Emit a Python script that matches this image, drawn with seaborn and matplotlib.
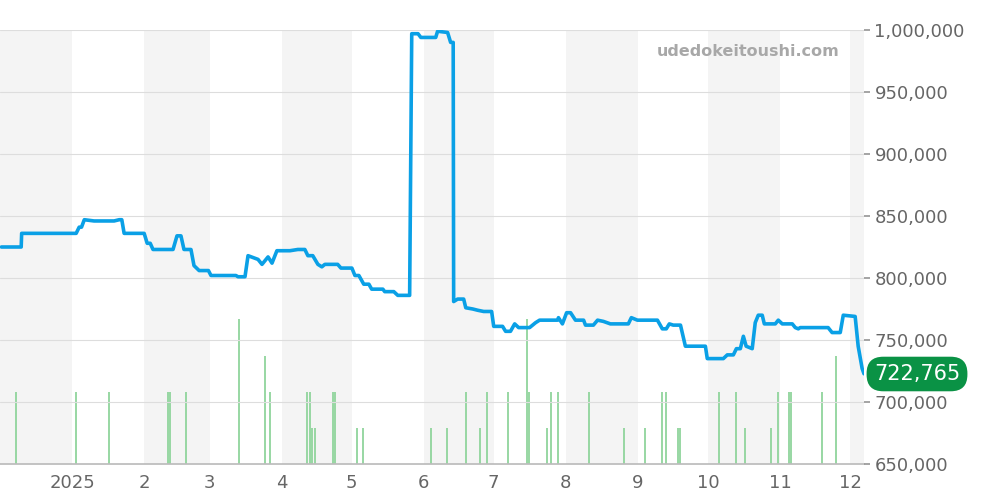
import numpy as np
import pandas as pd
import matplotlib
matplotlib.use("Agg")
import matplotlib.pyplot as plt
import seaborn as sns

# x positions are days since 2024-12-01; each line of the two lists matches
price_day = [0.6, 9.1, 9.3, 32.7, 34, 35, 36.2, 40.4, 49, 51.2,
             52.3, 53.3, 61.9, 63.2, 64.5, 65.7, 74.3, 76, 77.7, 79,
             82, 83.3, 85.5, 89.5, 90.6, 101.3, 102.2, 105.2, 106.5, 110.8,
             112.5, 115.1, 116.8, 118.9, 124.5, 127.9, 130.9, 132.2, 134.3, 136.5,
             138.2, 139.5, 145, 146.4, 151.1, 152.4, 154.1, 156.2, 158.4, 159.6,
             164.4, 165.2, 169.1, 170.8, 175.9, 176.8, 179.5, 180.7, 187.1, 187.9,
             192.2, 193.5, 194.6, 194.8, 196.5, 199.1, 200, 203, 205.1, 207.7,
             211.1, 212, 215.8, 217.1, 219.2, 221, 222.7, 227.4, 230, 231.7,
             239.4, 239.8, 241.5, 243.3, 245, 247.1, 250.6, 251.4, 254.8, 256.6,
             259.1, 262.1, 269.8, 271.1, 273.7, 282.3, 284.4, 286.1, 287.4, 289.1,
             292.2, 294.3, 302.9, 303.7, 310.6, 312.3, 314.9, 316.2, 317.9, 319.2,
             320.4, 323, 324.3, 325.6, 327.3, 328.2, 332.9, 334.2, 335.9, 340.2,
             341.5, 342.8, 343.6, 355.6, 357.3, 360.8, 362.1, 367.2, 368.5, 370.2,
             371]
price_val = [825, 825, 836, 836, 841, 841, 847, 846, 846, 847,
             847, 836, 836, 828, 828, 823, 823, 834, 834, 823,
             823, 810, 806, 806, 802, 802, 801, 801, 818, 815,
             811, 817, 812, 822, 822, 823, 823, 818, 818, 811,
             809, 811, 811, 808, 808, 802, 802, 795, 795, 791,
             791, 789, 789, 786, 786, 997, 997, 994, 994, 999,
             998, 990, 990, 781, 783, 783, 776, 775, 774, 773,
             773, 761, 761, 757, 757, 763, 760, 760, 764, 766,
             766, 768, 763, 772, 772, 766, 766, 762, 762, 766,
             765, 763, 763, 768, 766, 766, 759, 759, 763, 762,
             762, 745, 745, 735, 735, 738, 738, 743, 743, 753,
             745, 743, 764, 770, 770, 763, 763, 766, 763, 763,
             760, 759, 760, 760, 756, 756, 770, 769, 745, 727,
             722.765]
price_val = [v * 1000 for v in price_val]

vol_day = [7, 32.7, 46.9, 72.2, 73, 79.9, 102.6, 113.8, 115.9, 131.8,
           133.1, 133.9, 135.2, 143, 143.8, 153.2, 155.8, 185, 191.8, 200,
           206, 209, 218, 226.1, 227, 234.7, 236.8, 239.8, 253.1, 268.1,
           277.1, 284.4, 286.1, 291.3, 292.2, 308.9, 316.2, 320, 331.2, 334.2,
           338.9, 339.8, 353.1, 359.1]
vol_cnt = [2, 2, 2, 2, 2, 2, 4, 3, 2, 2,
           2, 1, 1, 2, 2, 1, 1, 1, 1, 2,
           1, 2, 2, 4, 2, 1, 2, 2, 2, 1,
           1, 2, 2, 1, 1, 2, 2, 1, 1, 2,
           2, 2, 2, 3]

month_lbl = ["2025", "2", "3", "4", "5", "6", "7", "8", "9", "10", "11", "12"]
last_price = "722,765"

start = pd.Timestamp("2024-12-01")
months = pd.date_range("2024-12-01", "2026-01-01", freq="MS")
m_off = [(m - start).days for m in months]
x_max = 371

sns.set_theme(style="white")
fig = plt.figure(figsize=(10, 5), dpi=100)
ax2 = fig.add_axes([0.0, 0.072, 0.864, 0.868])
ax = ax2.twinx()

# back axis: month bands + volume bars
for i in range(0, len(m_off) - 1, 2):
    ax2.axvspan(m_off[i], min(m_off[i + 1], x_max), color="#f4f4f4", zorder=0, lw=0)
ax2.vlines(vol_day, 0, vol_cnt, color="#90d49c", lw=1.3, zorder=2)
ax2.set_ylim(0, 12)
ax2.set_yticks([])
ax2.set_xlim(0, x_max)
ax2.set_xticks(m_off[1:13])
ax2.set_xticklabels(month_lbl, color="#666666", fontsize=13)
ax2.tick_params(axis="x", length=4, color="#999999")
for s in ax2.spines.values():
    s.set_visible(False)
ax2.spines["bottom"].set_visible(True)
ax2.spines["bottom"].set_color("#bbbbbb")

ax.set_ylim(650000, 1000000)
ax.set_yticks(np.arange(650000, 1000001, 50000))
ax.set_yticklabels([f"{v:,}" for v in range(650000, 1000001, 50000)], color="#666666", fontsize=13)
ax.tick_params(axis="y", length=4, color="#999999")
ax.grid(axis="y", color="#dddddd", lw=0.8)
for s in ax.spines.values():
    s.set_visible(False)

sns.lineplot(x=price_day, y=price_val, sort=False, color="#0aa0e6", lw=2.6, ax=ax, zorder=3)
ax.set_xlabel("")
ax.set_ylabel("")
ax.set_xlim(0, x_max)

fig.text(0.84, 0.896, "udedokeitoushi.com", ha="right", va="center", fontsize=11.5,
         fontweight="bold", color="#a8a8a8")
fig.text(0.917, 0.252, last_price, ha="center", va="center", fontsize=15, color="white",
         bbox=dict(boxstyle="round,pad=0.35,rounding_size=0.8", fc="#0a9245", ec="none"))

fig.savefig("out.png", dpi=100)
